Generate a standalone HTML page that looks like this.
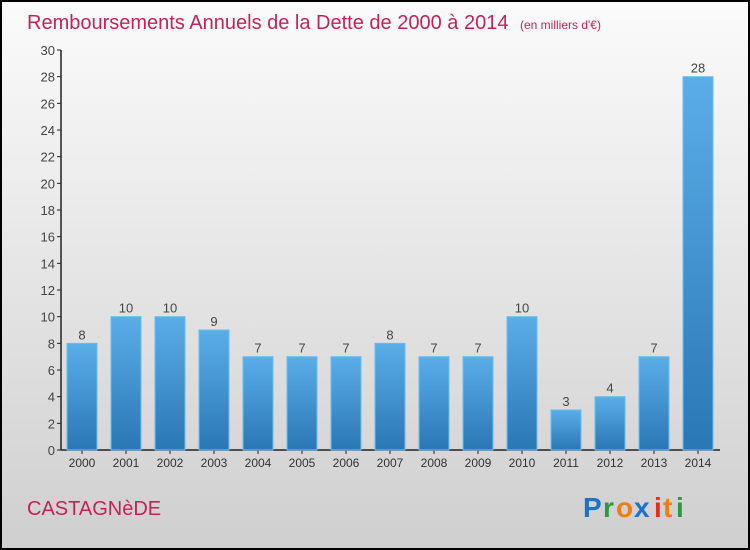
<!DOCTYPE html>
<html><head><meta charset="utf-8"><style>
body{margin:0}
#c{width:750px;height:550px;position:relative;overflow:hidden;font-family:"Liberation Sans",sans-serif}
</style></head><body>
<div id="c">
<svg width="750" height="550" xmlns="http://www.w3.org/2000/svg" id="svg">
<defs>
<linearGradient id="bg" x1="0" y1="0" x2="0" y2="1"><stop offset="0" stop-color="#fbfbfb"/><stop offset="1" stop-color="#cfcfcf"/></linearGradient>
<linearGradient id="bar" x1="0" y1="0" x2="0" y2="1"><stop offset="0" stop-color="#5aaee8"/><stop offset="1" stop-color="#2a77b5"/></linearGradient>
</defs>
<rect x="1" y="1" width="748" height="548" fill="url(#bg)" stroke="#000" stroke-width="2"/>
<text x="27" y="29" font-size="20" fill="#c8205a">Remboursements Annuels de la Dette de 2000 à 2014 <tspan font-size="12" dx="6">(en milliers d'€)</tspan></text>
<g id="axes"></g>
<g id="bars"></g>
<text x="27" y="515" font-size="20" fill="#c8205a">CASTAGNèDE</text>
<g font-size="28" font-weight="bold">
<text x="583" y="517" fill="#1a73c8">P</text><text x="603" y="517" fill="#2a9a3a">r</text><text x="616" y="517" fill="#f07d10">o</text><text x="634" y="517" fill="#1a73c8">x</text><text x="654" y="517" fill="#e03020">i</text><text x="663" y="517" fill="#f07d10">t</text><text x="676" y="517" fill="#2a9a3a">i</text>
</g>
</svg>
</div>
<script>
const years=["2000","2001","2002","2003","2004","2005","2006","2007","2008","2009","2010","2011","2012","2013","2014"];
const values=[8,10,10,9,7,7,7,8,7,7,10,3,4,7,28];
const yTicks=[0,2,4,6,8,10,12,14,16,18,20,22,24,26,28,30];
const NS="http://www.w3.org/2000/svg";
const y=v=>450-v*400/30;
const x=i=>82+i*44;
function mk(t,a,p){const e=document.createElementNS(NS,t);for(const k in a)e.setAttribute(k,a[k]);p.appendChild(e);return e;}
const ax=document.getElementById('axes'),bg=document.getElementById('bars');
let l=mk('line',{x1:61,y1:y(30),x2:61,y2:450,stroke:'#222','stroke-width':1.5},ax);


l=mk('line',{x1:61,y1:450,x2:720,y2:450,stroke:'#222','stroke-width':1.5},ax);


yTicks.forEach(v=>{
 mk('line',{x1:57,y1:y(v),x2:61,y2:y(v),stroke:'#222'},ax);
 const t=mk('text',{x:55,y:y(v)+5,'text-anchor':'end','font-size':13,fill:'#444'},ax);t.textContent=v;
 
 
});
years.forEach((yr,i)=>{
 mk('line',{x1:x(i),y1:450,x2:x(i),y2:454,stroke:'#222'},ax);
 const t=mk('text',{x:x(i),y:467,'text-anchor':'middle','font-size':12,fill:'#333'},ax);t.textContent=yr;
 
 
 const r=mk('rect',{x:x(i)-15,y:y(values[i]),width:30,height:450-y(values[i]),fill:'url(#bar)',stroke:'#6bbcf0','stroke-width':1},bg);
 
 
 const vl=mk('text',{x:x(i),y:y(values[i])-4,'text-anchor':'middle','font-size':13,fill:'#444'},bg);vl.textContent=values[i];
 
 
});
</script>
</body></html>
